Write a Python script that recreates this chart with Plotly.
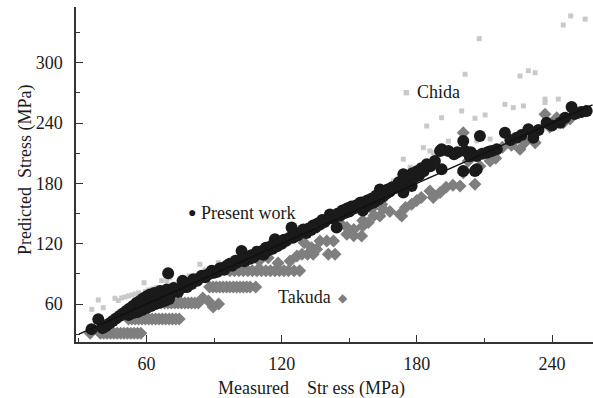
import plotly.graph_objects as go

# ---- Present work (measured vs predicted stress, MPa) ----
pw_measured = [35.6, 38.6, 40.5, 42, 43.5, 45, 46.5, 48, 49.5, 51, 52.5, 54, 55.5, 57, 58.5, 60,
               52, 54, 56, 58, 60, 62, 64, 66, 68, 70,
               61.5, 63.5, 66, 69, 72, 74, 76.3, 76, 78, 80, 80.8, 82.5, 84.5, 86, 88, 69.6,
               90, 92.6, 94.5, 96.3, 98, 100, 101.5, 103.5, 105.9, 107.5, 110.4, 112, 114, 116, 118,
               102.2, 117, 120, 122, 124.4, 125, 127, 129.6, 131, 133, 135, 137, 139, 141.4, 143,
               144.4, 146, 148, 150, 152, 154.8, 156, 157.5, 159, 161, 163, 163.6, 165, 166.5,
               168, 170, 171.5, 173, 174.7, 174, 177.7, 176, 178, 180, 182, 184.4, 186, 188, 191,
               191, 194, 196.5, 198, 200.6, 201.4, 200.6, 205.8, 203.5, 204, 206.6, 208, 206.6,
               209, 211, 212, 213.2, 215.5, 219.1, 221.5, 224.3, 226.5, 229.5, 231.7, 234, 237.6,
               240, 243.6, 245.8, 248.7, 250, 253, 255.4, 174, 190.3,
               62, 65, 67.5, 71, 73.5, 77, 79, 83, 86.5, 89, 91.5, 95, 97, 99.5, 104, 106.5, 109,
               111.5, 113, 115.5, 119, 121, 123.5, 126, 128.5, 132, 134, 136, 138, 140, 142, 145,
               147, 149, 151, 153, 155.5, 158, 160, 162, 164, 167, 169, 172, 175, 179, 181, 183]
pw_predicted = [35, 44.8, 36, 38, 40.5, 43, 45.5, 48, 50.5, 53, 55.5, 58, 61, 63, 65.5, 67.5,
                49, 51, 52, 54, 56, 58, 60, 61.5, 63, 65,
                69.5, 71, 73, 74.5, 76, 72, 79, 83, 77, 80, 84.5, 83, 88, 86.5, 90, 90.5,
                91, 95.5, 94, 99, 98, 101, 103, 102.5, 105, 106.5, 110, 109, 113.5, 115, 117.5,
                112.7, 124.4, 120, 123, 136, 126, 128, 134, 130.5, 133.5, 136, 139, 141.5, 149, 145,
                136, 148, 150.5, 152, 155, 160.8, 153, 157, 159.5, 161, 164, 174, 167, 170,
                172, 175, 177.5, 179, 187.3, 170.8, 177.4, 183, 190, 192, 195, 199, 197, 202.3, 194,
                214, 212.2, 209, 211, 222.2, 212.2, 192.3, 192.3, 207, 211, 207.2, 227.1, 194,
                209.5, 210.5, 211.5, 212.2, 214, 230.4, 223, 225.4, 228, 233.8, 225.4, 233, 240.3,
                237.5, 240.3, 245.3, 256, 249, 251, 252, 189, 212.2,
                63, 66, 68.5, 71, 74, 77, 81, 85, 88.5, 93, 92, 97, 100, 103, 106, 108.5, 112,
                113, 116, 118, 121.5, 124, 126, 130, 131, 135, 138, 140, 143.5, 144, 147, 150,
                153, 155, 157, 158, 161, 163, 165, 168, 170, 174, 176, 181, 185, 186, 188, 192]

# ---- Chida ----
chida_measured = [35.7, 38.6, 40.8, 46, 47.5, 49, 50.5, 52, 53.5, 55, 56.5, 58.9, 59.5, 61, 62.5,
                  64.5, 66.7, 69, 70.4, 72.5, 74.9, 77, 79, 83.7, 86, 88.5, 91.9, 95, 98, 108,
                  113.3, 118, 125, 130, 138, 145, 150, 155, 160, 169.6, 174, 177, 182.9, 185.8,
                  187.3, 184.4, 191, 194, 199.9, 201.4, 205.8, 206.6, 207.7, 210.3, 212.5, 219.1,
                  222.8, 227.3, 225.8, 229.5, 232.5, 236.9, 236.9, 242.8, 245, 248.3, 254.7, 252, 256]
chida_predicted = [54.7, 64, 56.3, 65.7, 63.5, 66, 67, 68, 69, 70, 71, 81.2, 72.5, 74, 75,
                   76.2, 83.3, 83, 86, 80, 84.6, 86, 88, 99.5, 94, 96, 101, 99.5, 103, 110,
                   106, 121, 128, 132, 142, 150, 154, 158, 164, 182.4, 204, 196, 215.5, 212.2,
                   210.5, 237, 245.3, 222, 252, 288.5, 244.7, 222.2, 323.9, 248, 224, 258.6,
                   255.3, 257, 286.8, 292, 290, 263.8, 260.4, 263.8, 337.5, 346.5, 343.3, 250, 255]

# ---- Takuda ----
takuda_measured = [35, 39.5, 41, 42.5, 44, 45.5, 47, 48.5, 50, 51.5, 53, 54.5, 56, 57.5,
                   52, 53.5, 55, 56.5, 58, 59.5, 61, 62.5, 64, 65.5, 67, 68.5, 70, 71.5, 73, 74.5,
                   62, 63.5, 65, 66.5, 68, 69.5, 71, 72.5, 74, 75.5, 77, 78.5, 80, 81.5, 83,
                   88, 89.5, 91, 92.5, 94, 95.5, 97, 98.5, 100, 101.5, 103, 104.5, 106, 108.5,
                   97, 99, 101, 103, 105, 107, 109, 111, 113, 115, 117, 119, 121, 123, 125.5, 128,
                   85, 87.5, 89.6, 92, 110, 114, 118.4, 123.7, 126.8, 129, 131.5, 134, 140.7, 143.7,
                   133.3, 135.5, 137, 140, 143, 148.9, 152, 155.5, 149, 152, 156, 156, 158.5, 161,
                   163.6, 164.4, 165, 168, 172.5, 173.3, 175, 177.7, 180, 182, 185.8, 187.3, 190.3,
                   193, 196, 199.2, 205.8, 200.6, 202.8, 208, 212.5, 215, 200.6, 218, 222, 225.8,
                   228, 232.5, 236.9, 239, 242.1, 245, 248, 252, 255, 130, 146, 160]
takuda_predicted = [31, 31, 31, 31, 31, 31, 31, 31, 31, 31, 31, 31, 31, 31,
                    45, 45, 45, 45, 45, 45, 45, 45, 45, 45, 45, 45, 45, 45, 45, 45,
                    61, 61, 61, 61, 61, 61, 61, 61, 61, 61, 61, 61, 61, 61, 61,
                    77, 77, 77, 77, 77, 77, 77, 77, 77, 77, 77, 77, 77, 77,
                    93, 93, 93, 93, 93, 93, 93, 93, 93, 93, 93, 93, 93, 93, 93, 93,
                    66, 63, 57, 60, 103, 106, 100.8, 102.8, 107.8, 109.4, 109.4, 109.4, 109.4, 109.4,
                    116, 114.4, 122.6, 122.6, 122.6, 129.3, 128, 127.7, 136, 134, 137.6, 143, 141, 148,
                    147.6, 159.2, 154.6, 152, 149.2, 147.6, 156, 159.2, 163, 166, 172.4, 165.8, 170.8,
                    176, 178, 177.4, 179, 190.6, 202.3, 197, 202.3, 205, 230.4, 216, 218, 213.9,
                    221, 220.5, 248.7, 236, 245.3, 240.3, 244, 250, 252, 121, 140, 155]

# Line of perfect agreement (predicted = measured)
ideal_line = [30, 258]

FONT = "Liberation Serif, Times New Roman, serif"
L, R, T, B = 76, 0, 7, 56
W, H = 593, 398
PW, PH = W - L - R, H - T - B


def px_to_paper(px, py):
    return (px - L) / PW, (H - B - py) / PH


fig = go.Figure()
fig.add_trace(go.Scatter(x=chida_measured, y=chida_predicted, mode="markers", name="Chida",
                         marker=dict(symbol="square", size=5, color="#c9c9c9")))
fig.add_trace(go.Scatter(x=takuda_measured, y=takuda_predicted, mode="markers", name="Takuda",
                         marker=dict(symbol="diamond", size=10, color="#7f7f7f")))
fig.add_trace(go.Scatter(x=pw_measured, y=pw_predicted, mode="markers", name="Present work",
                         marker=dict(symbol="circle", size=12, color="#1a1a1a")))
fig.add_trace(go.Scatter(x=ideal_line, y=ideal_line, mode="lines",
                         line=dict(color="#111111", width=1.5)))

axis_common = dict(
    showgrid=False, zeroline=False, showline=True, linecolor="#333333", linewidth=1.5,
    ticks="inside", ticklen=7, tickwidth=1.2, tickcolor="#333333",
    tick0=0, dtick=60,
    minor=dict(tick0=0, dtick=30, ticks="inside", ticklen=4, tickwidth=1, tickcolor="#333333"),
    tickfont=dict(family=FONT, size=18, color="#1a1a1a"),
    automargin=False,
)
fig.update_xaxes(range=[28.7, 258.2], ticklabelstandoff=5, **axis_common)
fig.update_yaxes(range=[22.2, 355.4], ticklabelstandoff=8, **axis_common)

annotations = []


def label(text, px, py, xanchor="left", size=18, color="#1a1a1a", angle=0):
    xp, yp = px_to_paper(px, py)
    annotations.append(dict(text=text, x=xp, y=yp, xref="paper", yref="paper",
                            xanchor=xanchor, yanchor="middle", showarrow=False,
                            textangle=angle,
                            font=dict(family=FONT, size=size, color=color)))


# in-plot series labels with their key symbols
label("●", 192, 212, xanchor="center", size=14, color="#1a1a1a")
label("Present work", 199, 213)
label("■", 406, 92, xanchor="center", size=11, color="#c9c9c9")
label("Chida", 415, 92)
label("Takuda", 333, 297, xanchor="right")
label("◆", 343, 298, xanchor="center", size=12, color="#7f7f7f")

# axis titles
label("Measured\u00a0\u00a0\u00a0\u00a0Str ess (MPa)", 311, 388, xanchor="center")
label("Predicted\u00a0\u00a0Stress (MPa)", 25, 170, xanchor="center", angle=-90)

fig.update_layout(
    width=W, height=H,
    margin=dict(l=L, r=R, t=T, b=B),
    paper_bgcolor="white", plot_bgcolor="white",
    showlegend=False,
    annotations=annotations,
    font=dict(family=FONT, size=18, color="#1a1a1a"),
)

fig.write_html("out.html")
